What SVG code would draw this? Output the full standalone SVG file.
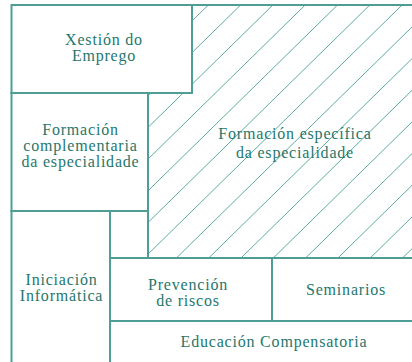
<svg xmlns="http://www.w3.org/2000/svg" width="412" height="362" viewBox="0 0 412 362">
<style>
.box{fill:none;stroke:#4f9e96;stroke-width:2}
.hatch{stroke:#5aaba3;stroke-width:1}
.lbl{font-family:"Liberation Serif","Times New Roman",serif;font-size:16px;letter-spacing:0.8px;fill:#1f776c;text-anchor:middle}
</style>
<defs>
<clipPath id="hclip"><polygon points="192,5 414,5 414,258 148,258 148,93 192,93"/></clipPath>
</defs>
<rect x="0" y="0" width="412" height="362" fill="#ffffff"/>
<g id="hatching" clip-path="url(#hclip)">
<path class="hatch" d="M208.3,5L-49.7,258M240.6,5L-17.4,258M272.9,5L14.9,258M305.2,5L47.2,258M337.5,5L79.5,258M369.8,5L111.8,258M402.1,5L144.1,258M434.4,5L176.4,258M466.7,5L208.7,258M499,5L241,258M531.3,5L273.3,258M563.6,5L305.6,258M595.9,5L337.9,258M628.2,5L370.2,258M660.5,5L402.5,258M692.8,5L434.8,258"/>
</g>
<g id="connectors"></g>
<g id="formacion-especifica">
<path class="box" d="M192,5H414M148,93V258H414"/>
<text class="lbl" x="295" y="139">Formación específica</text>
<text class="lbl" x="295" y="158">da especialidade</text>
</g>
<g id="xestion">
<rect class="box" x="11.5" y="5" width="180.5" height="88"/>
<text class="lbl" x="104" y="45">Xestión do</text>
<text class="lbl" x="104" y="61">Emprego</text>
</g>
<g id="formacion-complementaria">
<rect class="box" x="11.5" y="93" width="136.5" height="118"/>
<text class="lbl" x="80.5" y="135">Formación</text>
<text class="lbl" x="80.5" y="151">complementaria</text>
<text class="lbl" x="80.5" y="167">da especialidade</text>
</g>
<g id="iniciacion">
<rect class="box" x="11.5" y="211" width="98.5" height="153"/>
<text class="lbl" x="61.5" y="284.5">Iniciación</text>
<text class="lbl" x="61.5" y="300.5">Informática</text>
</g>
<g id="prevencion">
<rect class="box" x="110" y="258" width="162" height="63"/>
<text class="lbl" x="188" y="289.5">Prevención</text>
<text class="lbl" x="188" y="305.5">de riscos</text>
</g>
<g id="seminarios">
<rect class="box" x="272" y="258" width="142" height="63"/>
<text class="lbl" x="346" y="294.5">Seminarios</text>
</g>
<g id="educacion">
<rect class="box" x="110" y="321" width="304" height="43"/>
<text class="lbl" x="274" y="347">Educación Compensatoria</text>
</g>
</svg>
